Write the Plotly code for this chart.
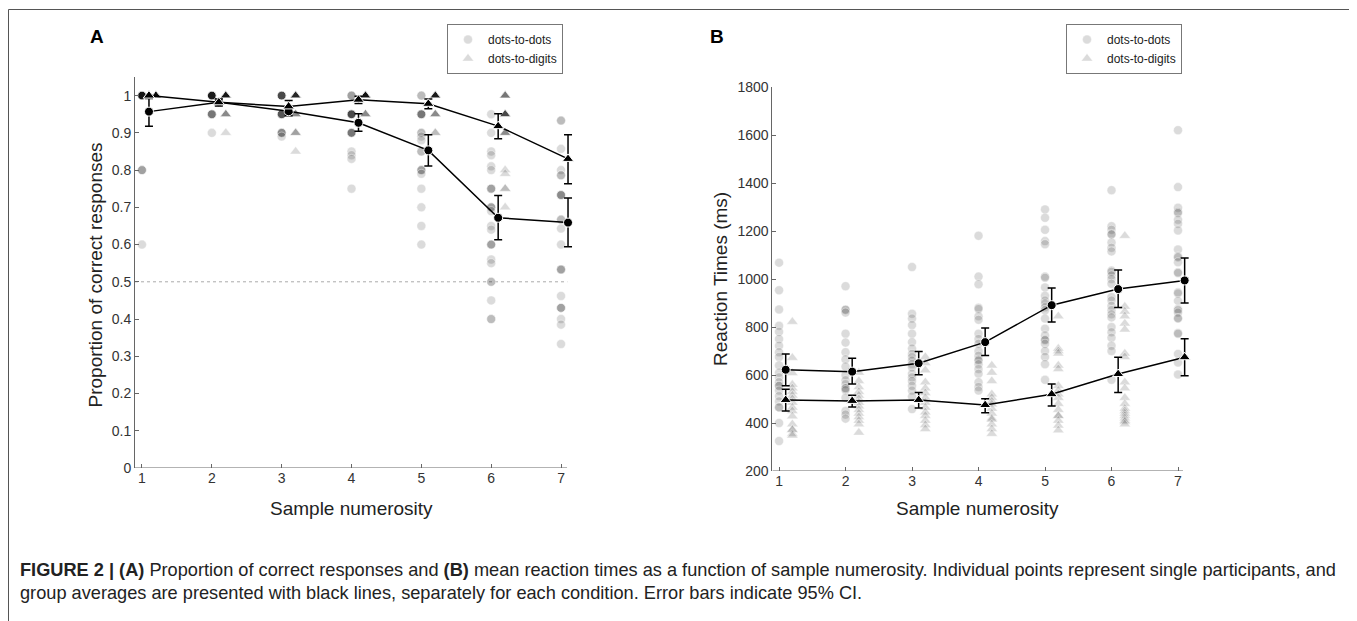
import numpy as np
import plotly.graph_objects as go

# The page body has an 8px margin, so the figure is drawn 8px smaller and
# every reference pixel position is shifted by that margin.
BODY = 8
W, H = 1357 - BODY, 621 - BODY
numerosity = [1, 2, 3, 4, 5, 6, 7]

# ---------------- Panel A: proportion correct (individual participants) ----------------
# long form: numerosity, value, number of participants with that value
accA_dots_num = [1, 1, 1,
                 2, 2, 2,
                 3, 3, 3, 3,
                 4, 4, 4, 4, 4, 4, 4,
                 5, 5, 5, 5, 5, 5, 5, 5, 5, 5, 5, 5,
                 6, 6, 6, 6, 6, 6, 6, 6, 6, 6, 6, 6, 6, 6, 6, 6, 6,
                 7, 7, 7, 7, 7, 7, 7, 7, 7, 7, 7, 7, 7, 7]
accA_dots_val = [1.0, 0.8, 0.6,
                 1.0, 0.95, 0.9,
                 1.0, 0.95, 0.9, 0.89,
                 1.0, 0.95, 0.9, 0.85, 0.84, 0.83, 0.75,
                 1.0, 0.95, 0.9, 0.89, 0.88, 0.85, 0.8, 0.79, 0.75, 0.7, 0.65, 0.6,
                 0.95, 0.9, 0.85, 0.84, 0.81, 0.8, 0.75, 0.7, 0.69, 0.65, 0.64, 0.6, 0.56, 0.55, 0.5, 0.45, 0.4,
                 0.933, 0.857, 0.8, 0.786, 0.733, 0.667, 0.643, 0.6, 0.533, 0.462, 0.43, 0.4, 0.385, 0.333]
accA_dots_cnt = [16, 3, 1,
                 14, 5, 1,
                 8, 7, 4, 1,
                 3, 8, 5, 1, 1, 1, 1,
                 2, 5, 2, 1, 1, 2, 3, 1, 1, 1, 1, 1,
                 1, 1, 1, 1, 1, 1, 3, 3, 1, 1, 1, 3, 1, 1, 2, 1, 2,
                 2, 1, 1, 2, 4, 2, 1, 1, 3, 1, 3, 1, 1, 1]

accA_digits_num = [1,
                   2, 2, 2,
                   3, 3, 3, 3,
                   4, 4,
                   5, 5, 5,
                   6, 6, 6, 6, 6, 6, 6]
accA_digits_val = [1.0,
                   1.0, 0.95, 0.9,
                   1.0, 0.95, 0.9, 0.85,
                   1.0, 0.95,
                   1.0, 0.95, 0.9,
                   1.0, 0.95, 0.9, 0.8, 0.79, 0.75, 0.7]
accA_digits_cnt = [20,
                   15, 4, 1,
                   12, 4, 3, 1,
                   16, 4,
                   14, 4, 2,
                   5, 8, 4, 1, 1, 2, 1]

# group means and 95% CI bounds
accA_dots_mean = [0.957, 0.982, 0.958, 0.927, 0.853, 0.672, 0.659]
accA_dots_hi = [0.992, 0.990, 0.970, 0.951, 0.895, 0.732, 0.725]
accA_dots_lo = [0.918, 0.975, 0.946, 0.904, 0.811, 0.613, 0.594]
accA_digits_mean = [1.0, 0.982, 0.971, 0.989, 0.978, 0.918, 0.830]
accA_digits_hi = [1.0, 0.991, 0.987, 0.998, 0.991, 0.951, 0.895]
accA_digits_lo = [1.0, 0.972, 0.955, 0.979, 0.965, 0.884, 0.763]

# ---------------- Panel B: reaction times (ms) ----------------
rtB_dots_num = [1] * 22 + [2] * 19 + [3] * 19 + [4] * 20 + [5] * 23 + [6] * 25 + [7] * 27
rtB_dots_val = [1068, 953, 873, 805, 780, 750, 722, 695, 675, 640, 610, 590, 570, 555, 555, 535, 512, 490, 465, 465, 400, 325,
                970, 872, 872, 860, 772, 735, 695, 665, 635, 600, 578, 562, 545, 545, 537, 505, 450, 435, 418,
                1050, 855, 835, 808, 772, 737, 710, 688, 675, 660, 645, 632, 605, 590, 575, 555, 535, 510, 458,
                1180, 1010, 978, 880, 875, 845, 830, 772, 750, 730, 700, 680, 665, 660, 645, 625, 605, 570, 550, 535,
                1290, 1255, 1205, 1158, 1145, 1010, 1005, 965, 930, 910, 898, 882, 870, 835, 793, 765, 748, 745, 730, 700, 675, 645, 580,
                1370, 1220, 1205, 1188, 1185, 1152, 1130, 1115, 1035, 1030, 1015, 1000, 980, 925, 910, 888, 870, 853, 840, 800, 778, 755, 722, 700, 580,
                1620, 1383, 1297, 1280, 1275, 1247, 1230, 1202, 1123, 1094, 1090, 1070, 1028, 1025, 945, 940, 909, 875, 870, 860, 838, 835, 775, 772, 688, 652, 602]

rtB_digits_num = [1] * 17 + [2] * 14 + [3] * 14 + [4] * 14 + [5] * 17 + [6] * 20
rtB_digits_val = [822, 672, 608, 560, 545, 530, 515, 500, 485, 465, 450, 428, 395, 372, 372, 355, 348,
                  610, 575, 550, 530, 515, 500, 485, 470, 455, 440, 425, 410, 395, 360,
                  675, 650, 620, 570, 545, 525, 505, 485, 465, 445, 430, 410, 392, 375,
                  640, 610, 575, 520, 505, 490, 478, 460, 440, 420, 415, 395, 375, 355,
                  845, 710, 700, 690, 640, 625, 555, 535, 520, 505, 480, 455, 430, 430, 410, 390, 370,
                  1180, 885, 865, 845, 815, 790, 690, 675, 570, 545, 505, 480, 460, 450, 440, 430, 420, 410, 405, 395]

rtB_dots_mean = [622, 614, 649, 737, 891, 958, 994]
rtB_dots_hi = [688, 670, 698, 796, 962, 1037, 1088]
rtB_dots_lo = [555, 562, 601, 681, 821, 881, 900]
rtB_digits_mean = [496, 492, 496, 475, 520, 604, 674]
rtB_digits_hi = [541, 516, 527, 501, 562, 674, 751]
rtB_digits_lo = [450, 467, 462, 443, 471, 527, 597]

accA_ticks = [0, 0.1, 0.2, 0.3, 0.4, 0.5, 0.6, 0.7, 0.8, 0.9, 1.0]
accA_ticktext = ["0", "0.1", "0.2", "0.3", "0.4", "0.5", "0.6", "0.7", "0.8", "0.9", "1"]
rtB_ticks = [200, 400, 600, 800, 1000, 1200, 1400, 1600, 1800]

caption_line1 = ("<b>FIGURE 2 | (A)</b> Proportion of correct responses and <b>(B)</b> mean reaction times as a function of "
                 "sample numerosity. Individual points represent single participants, and")
caption_line2 = "group averages are presented with black lines, separately for each condition. Error bars indicate 95% CI."

# ---------------- styling ----------------
FONT = "Liberation Sans, Arial, sans-serif"
PT_COLOR = "rgba(0,0,0,0.14)"
PT_EDGE = dict(color="rgba(255,255,255,0.7)", width=0.6)
OFF_DOTS, OFF_MEAN, OFF_DIGITS = 0.0, 0.1, 0.2
AXIS_COLOR = "#666"


def px_x(p):
    return (p - BODY) / W


def px_y(p):
    return 1 - (p - BODY) / H


fig = go.Figure()


def add_points(x, y, symbol, size, xa, ya, name, legend):
    fig.add_trace(go.Scatter(
        x=x, y=y, mode="markers", name=name, xaxis=xa, yaxis=ya, legend=legend,
        marker=dict(symbol=symbol, size=size, color=PT_COLOR, line=PT_EDGE),
        hoverinfo="x+y"))


def add_mean(mean, hi, lo, symbol, size, xa, ya):
    fig.add_trace(go.Scatter(
        x=[n + OFF_MEAN for n in numerosity], y=mean, mode="lines+markers",
        xaxis=xa, yaxis=ya, showlegend=False, cliponaxis=False,
        line=dict(color="black", width=1.5),
        marker=dict(symbol=symbol, size=size, color="black", line=dict(color="white", width=1)),
        error_y=dict(type="data", symmetric=False,
                     array=[h - m for h, m in zip(hi, mean)],
                     arrayminus=[m - l for m, l in zip(mean, lo)],
                     color="black", thickness=1.5, width=4)))


# Panel A
xa_d = np.repeat(np.array(accA_dots_num, float), accA_dots_cnt) + OFF_DOTS
ya_d = np.repeat(np.array(accA_dots_val, float), accA_dots_cnt)
xa_g = np.repeat(np.array(accA_digits_num, float), accA_digits_cnt) + OFF_DIGITS
ya_g = np.repeat(np.array(accA_digits_val, float), accA_digits_cnt)
add_points(xa_d, ya_d, "circle", 9, "x", "y", "dots-to-dots", "legend")
add_points(xa_g, ya_g, "triangle-up", 10, "x", "y", "dots-to-digits", "legend")
add_mean(accA_dots_mean, accA_dots_hi, accA_dots_lo, "circle", 9, "x", "y")
add_mean(accA_digits_mean, accA_digits_hi, accA_digits_lo, "triangle-up", 10, "x", "y")

# Panel B
add_points(np.array(rtB_dots_num, float) + OFF_DOTS, rtB_dots_val, "circle", 9, "x2", "y2", "dots-to-dots", "legend2")
add_points(np.array(rtB_digits_num, float) + OFF_DIGITS, rtB_digits_val, "triangle-up", 10, "x2", "y2", "dots-to-digits", "legend2")
add_mean(rtB_dots_mean, rtB_dots_hi, rtB_dots_lo, "circle", 9, "x2", "y2")
add_mean(rtB_digits_mean, rtB_digits_hi, rtB_digits_lo, "triangle-up", 10, "x2", "y2")

axis_common = dict(linecolor=AXIS_COLOR, linewidth=1, ticks="inside", ticklen=4,
                   tickcolor=AXIS_COLOR, showgrid=False, zeroline=False, automargin=False,
                   tickfont=dict(family=FONT, size=14, color="#333"))

# plot areas (reference pixels); x range reaches a bit past 7.1 so the last
# error-bar caps are not clipped, the visible x-axis line is drawn separately
X_RANGE = [0.9, 7.2]
A_L, A_R, A_T, A_B = 135, 575, 77, 468
B_L, B_R, B_T, B_B = 772.4, 1191.3, 87, 471

fig.update_layout(
    width=W, height=H, autosize=False,
    margin=dict(l=0, r=0, t=0, b=0, pad=0, autoexpand=False),
    paper_bgcolor="white", plot_bgcolor="white",
    font=dict(family=FONT, color="#222"),
    xaxis=dict(domain=[px_x(A_L), px_x(A_R)], range=X_RANGE, tickvals=numerosity,
               showline=False, anchor="y", **axis_common),
    yaxis=dict(domain=[px_y(A_B), px_y(A_T)], range=[0, 1.05], tickvals=accA_ticks,
               ticktext=accA_ticktext, showline=True, anchor="x", **axis_common),
    xaxis2=dict(domain=[px_x(B_L), px_x(B_R)], range=X_RANGE, tickvals=numerosity,
                showline=False, anchor="y2", **axis_common),
    yaxis2=dict(domain=[px_y(B_B), px_y(B_T)], range=[200, 1800], tickvals=rtB_ticks,
                showline=True, anchor="x2", **axis_common),
    legend=dict(x=px_x(447), y=px_y(24), xanchor="left", yanchor="top",
                bgcolor="white", bordercolor="#777", borderwidth=1,
                font=dict(family=FONT, size=12, color="#222"), tracegroupgap=0),
    legend2=dict(x=px_x(1066), y=px_y(24), xanchor="left", yanchor="top",
                 bgcolor="white", bordercolor="#777", borderwidth=1,
                 font=dict(family=FONT, size=12, color="#222"), tracegroupgap=0),
    showlegend=True,
)

# visible x-axis lines (end just before the last mean, as in the reference)
fig.add_shape(type="line", xref="x", yref="y", x0=0.9, x1=7.086, y0=0, y1=0,
              line=dict(color=AXIS_COLOR, width=1))
fig.add_shape(type="line", xref="x2", yref="y2", x0=0.9, x1=7.075, y0=200, y1=200,
              line=dict(color=AXIS_COLOR, width=1))

# chance line
fig.add_shape(type="line", xref="x", yref="y", x0=0.9, x1=7.09, y0=0.5, y1=0.5,
              line=dict(color="#aaa", width=1, dash="dot"), layer="below")

# outer frame
fig.add_shape(type="rect", xref="paper", yref="paper", x0=px_x(8.5), x1=px_x(1350),
              y0=px_y(700), y1=px_y(9.5), line=dict(color="#555", width=1), layer="below")

ann = []
ann.append(dict(text="<b>A</b>", x=px_x(97), y=px_y(36), font=dict(size=19, color="black")))
ann.append(dict(text="<b>B</b>", x=px_x(717), y=px_y(36), font=dict(size=19, color="black")))
ann.append(dict(text="Proportion of correct responses", x=px_x(95), y=px_y((A_T + A_B) / 2 + 3),
                textangle=-90, font=dict(size=19, color="#222")))
ann.append(dict(text="Reaction Times (ms)", x=px_x(720), y=px_y((B_T + B_B) / 2),
                textangle=-90, font=dict(size=19, color="#222")))
ann.append(dict(text="Sample numerosity", x=px_x(351), y=px_y(508), font=dict(size=19, color="#222")))
ann.append(dict(text="Sample numerosity", x=px_x(977), y=px_y(508), font=dict(size=19, color="#222")))
for a in ann:
    a.update(xref="paper", yref="paper", showarrow=False, xanchor="center", yanchor="middle")
    a["font"]["family"] = FONT
    fig.add_annotation(**a)

fig.add_annotation(text=caption_line1, x=px_x(18), y=px_y(570), xref="paper", yref="paper",
                   xanchor="left", yanchor="middle", showarrow=False,
                   font=dict(family=FONT, size=18.2, color="#222"))
fig.add_annotation(text=caption_line2, x=px_x(18), y=px_y(593), xref="paper", yref="paper",
                   xanchor="left", yanchor="middle", showarrow=False,
                   font=dict(family=FONT, size=18.2, color="#222"))

fig.write_html("out.html")
